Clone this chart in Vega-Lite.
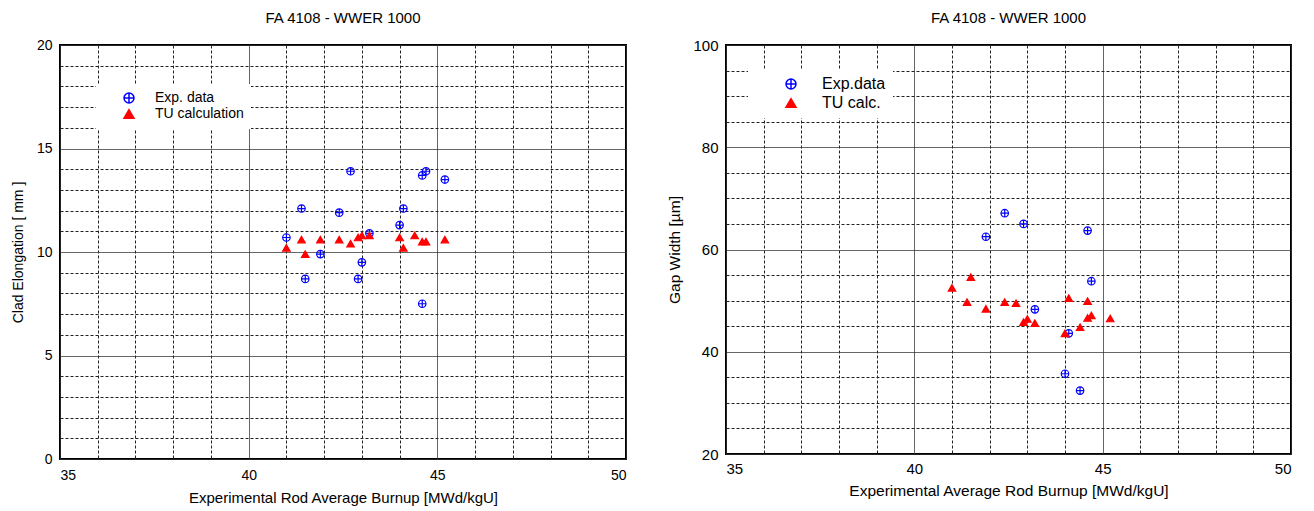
{
  "$schema": "https://vega.github.io/schema/vega-lite/v6.json",
  "padding": {"left": 10, "top": 10, "right": 4, "bottom": 2},
  "background": "white",
  "spacing": 39,
  "resolve": {
    "scale": {"fill": "independent", "stroke": "independent", "shape": "independent"},
    "legend": {"fill": "independent", "stroke": "independent", "shape": "independent"}
  },
  "config": {
    "font": "Liberation Sans",
    "view": {"stroke": "black", "strokeWidth": 2},
    "axis": {"ticks": false, "domain": false, "labelColor": "black", "titleColor": "black", "titleFontWeight": "normal", "labelFont": "Liberation Sans", "titleFont": "Liberation Sans"},
    "title": {"fontWeight": "normal", "color": "black", "font": "Liberation Sans"}
  },
  "datasets": {
    "elong": [
      {"burnup": 41.0, "value": 10.7, "series": "Exp. data"},
      {"burnup": 41.4, "value": 12.1, "series": "Exp. data"},
      {"burnup": 41.5, "value": 8.7, "series": "Exp. data"},
      {"burnup": 41.9, "value": 9.9, "series": "Exp. data"},
      {"burnup": 42.4, "value": 11.9, "series": "Exp. data"},
      {"burnup": 42.7, "value": 13.9, "series": "Exp. data"},
      {"burnup": 42.9, "value": 8.7, "series": "Exp. data"},
      {"burnup": 43.0, "value": 9.5, "series": "Exp. data"},
      {"burnup": 43.2, "value": 10.9, "series": "Exp. data"},
      {"burnup": 44.0, "value": 11.3, "series": "Exp. data"},
      {"burnup": 44.1, "value": 12.1, "series": "Exp. data"},
      {"burnup": 44.6, "value": 13.7, "series": "Exp. data"},
      {"burnup": 44.7, "value": 13.9, "series": "Exp. data"},
      {"burnup": 44.6, "value": 7.5, "series": "Exp. data"},
      {"burnup": 45.2, "value": 13.5, "series": "Exp. data"},
      {"burnup": 41.0, "value": 10.2, "series": "TU calculation"},
      {"burnup": 41.4, "value": 10.6, "series": "TU calculation"},
      {"burnup": 41.5, "value": 9.9, "series": "TU calculation"},
      {"burnup": 41.9, "value": 10.6, "series": "TU calculation"},
      {"burnup": 42.4, "value": 10.6, "series": "TU calculation"},
      {"burnup": 42.7, "value": 10.4, "series": "TU calculation"},
      {"burnup": 42.9, "value": 10.7, "series": "TU calculation"},
      {"burnup": 43.0, "value": 10.8, "series": "TU calculation"},
      {"burnup": 43.2, "value": 10.8, "series": "TU calculation"},
      {"burnup": 44.0, "value": 10.7, "series": "TU calculation"},
      {"burnup": 44.1, "value": 10.2, "series": "TU calculation"},
      {"burnup": 44.4, "value": 10.8, "series": "TU calculation"},
      {"burnup": 44.6, "value": 10.5, "series": "TU calculation"},
      {"burnup": 44.7, "value": 10.5, "series": "TU calculation"},
      {"burnup": 45.2, "value": 10.6, "series": "TU calculation"}
    ],
    "gap": [
      {"burnup": 42.4, "value": 67.1, "series": "Exp.data"},
      {"burnup": 42.9, "value": 65.0, "series": "Exp.data"},
      {"burnup": 41.9, "value": 62.5, "series": "Exp.data"},
      {"burnup": 44.6, "value": 63.7, "series": "Exp.data"},
      {"burnup": 44.7, "value": 53.8, "series": "Exp.data"},
      {"burnup": 43.2, "value": 48.3, "series": "Exp.data"},
      {"burnup": 44.1, "value": 43.6, "series": "Exp.data"},
      {"burnup": 44.0, "value": 35.7, "series": "Exp.data"},
      {"burnup": 44.4, "value": 32.4, "series": "Exp.data"},
      {"burnup": 41.0, "value": 52.5, "series": "TU calc."},
      {"burnup": 41.5, "value": 54.6, "series": "TU calc."},
      {"burnup": 41.4, "value": 49.7, "series": "TU calc."},
      {"burnup": 41.9, "value": 48.4, "series": "TU calc."},
      {"burnup": 42.4, "value": 49.7, "series": "TU calc."},
      {"burnup": 42.7, "value": 49.5, "series": "TU calc."},
      {"burnup": 42.9, "value": 45.8, "series": "TU calc."},
      {"burnup": 43.0, "value": 46.4, "series": "TU calc."},
      {"burnup": 43.2, "value": 45.6, "series": "TU calc."},
      {"burnup": 44.0, "value": 43.6, "series": "TU calc."},
      {"burnup": 44.1, "value": 50.5, "series": "TU calc."},
      {"burnup": 44.4, "value": 44.8, "series": "TU calc."},
      {"burnup": 44.6, "value": 49.9, "series": "TU calc."},
      {"burnup": 44.6, "value": 46.6, "series": "TU calc."},
      {"burnup": 44.7, "value": 47.1, "series": "TU calc."},
      {"burnup": 45.2, "value": 46.5, "series": "TU calc."}
    ]
  },
  "hconcat": [
    {
      "width": 566,
      "height": 414,
      "title": {"text": "FA 4108 - WWER 1000", "fontSize": 15, "offset": 12},
      "data": {"name": "elong"},
      "mark": {"type": "point", "size": 56, "strokeWidth": 1.2, "opacity": 1},
      "encoding": {
        "x": {
          "field": "burnup", "type": "quantitative",
          "scale": {"domain": [35, 50], "nice": false, "zero": false},
          "axis": {
            "title": "Experimental Rod Average Burnup [MWd/kgU]",
            "titleFontSize": 15, "titlePadding": 8,
            "labelFontSize": 14, "labelPadding": 9,
            "values": [35, 36, 37, 38, 39, 40, 41, 42, 43, 44, 45, 46, 47, 48, 49, 50],
            "labelExpr": "datum.value % 5 === 0 ? datum.label : ''",
            "grid": true,
            "gridColor": {"condition": {"test": "datum.value % 5 === 0", "value": "#333333"}, "value": "#222222"},
            "gridDash": {"condition": {"test": "datum.value % 5 === 0", "value": [1, 0]}, "value": [3, 2]},
            "gridWidth": 1,
            "gridOpacity": 1
          }
        },
        "y": {
          "field": "value", "type": "quantitative",
          "scale": {"domain": [0, 20], "nice": false, "zero": false},
          "axis": {
            "title": "Clad Elongation [ mm ]",
            "titleFontSize": 14, "titlePadding": 11,
            "labelFontSize": 14, "labelPadding": 8,
            "values": [0, 1, 2, 3, 4, 5, 6, 7, 8, 9, 10, 11, 12, 13, 14, 15, 16, 17, 18, 19, 20],
            "labelExpr": "datum.value % 5 === 0 ? datum.label : ''",
            "grid": true,
            "gridColor": {"condition": {"test": "datum.value % 5 === 0", "value": "#333333"}, "value": "#222222"},
            "gridDash": {"condition": {"test": "datum.value % 5 === 0", "value": [1, 0]}, "value": [3, 2]},
            "gridWidth": 1,
            "gridOpacity": 1
          }
        },
        "fill": {
          "field": "series", "type": "nominal",
          "scale": {"domain": ["Exp. data", "TU calculation"], "range": ["transparent", "red"]},
          "legend": {
            "title": null, "orient": "none", "legendX": 36, "legendY": 39,
            "fillColor": "white", "padding": 7, "labelFontSize": 14, "labelColor": "black",
            "symbolOffset": 19, "labelOffset": 19, "rowPadding": 0,
            "encode": {"symbols": {
              "size": {"condition": {"test": "datum.value === 'Exp. data'", "value": 30}, "value": 34}
            }}
          }
        },
        "stroke": {
          "field": "series", "type": "nominal",
          "scale": {"domain": ["Exp. data", "TU calculation"], "range": ["blue", "red"]}
        },
        "shape": {
          "field": "series", "type": "nominal",
          "scale": {"domain": ["Exp. data", "TU calculation"], "range": ["M -1 0 A 1 1 0 1 1 1 0 A 1 1 0 1 1 -1 0 Z M -1 0 L 1 0 M 0 -1 L 0 1", "triangle-up"]}
        }
      }
    },
    {
      "width": 565,
      "height": 409,
      "title": {"text": "FA 4108 - WWER 1000", "fontSize": 15, "offset": 12},
      "data": {"name": "gap"},
      "mark": {"type": "point", "size": 56, "strokeWidth": 1.2, "opacity": 1},
      "encoding": {
        "x": {
          "field": "burnup", "type": "quantitative",
          "scale": {"domain": [35, 50], "nice": false, "zero": false},
          "axis": {
            "title": "Experimental Average Rod Burnup [MWd/kgU]",
            "titleFontSize": 15.5, "titlePadding": 7,
            "labelFontSize": 15, "labelPadding": 7,
            "values": [35, 36, 37, 38, 39, 40, 41, 42, 43, 44, 45, 46, 47, 48, 49, 50],
            "labelExpr": "datum.value % 5 === 0 ? datum.label : ''",
            "grid": true,
            "gridColor": {"condition": {"test": "datum.value % 5 === 0", "value": "#333333"}, "value": "#222222"},
            "gridDash": {"condition": {"test": "datum.value % 5 === 0", "value": [1, 0]}, "value": [3, 2]},
            "gridWidth": 1,
            "gridOpacity": 1
          }
        },
        "y": {
          "field": "value", "type": "quantitative",
          "scale": {"domain": [20, 100], "nice": false, "zero": false},
          "axis": {
            "title": "Gap Width [µm]",
            "titleFontSize": 15.5, "titlePadding": 10,
            "labelFontSize": 15, "labelPadding": 8,
            "values": [20, 25, 30, 35, 40, 45, 50, 55, 60, 65, 70, 75, 80, 85, 90, 95, 100],
            "labelExpr": "datum.value % 20 === 0 ? datum.label : ''",
            "grid": true,
            "gridColor": {"condition": {"test": "datum.value % 20 === 0", "value": "#333333"}, "value": "#222222"},
            "gridDash": {"condition": {"test": "datum.value % 20 === 0", "value": [1, 0]}, "value": [3, 2]},
            "gridWidth": 1,
            "gridOpacity": 1
          }
        },
        "fill": {
          "field": "series", "type": "nominal",
          "scale": {"domain": ["Exp.data", "TU calc."], "range": ["transparent", "red"]},
          "legend": {
            "title": null, "orient": "none", "legendX": 22, "legendY": 24,
            "fillColor": "white", "padding": 7, "labelFontSize": 16, "labelColor": "black",
            "symbolOffset": 28, "labelOffset": 23, "rowPadding": 3,
            "encode": {"symbols": {
              "size": {"condition": {"test": "datum.value === 'Exp.data'", "value": 40}, "value": 50}
            }}
          }
        },
        "stroke": {
          "field": "series", "type": "nominal",
          "scale": {"domain": ["Exp.data", "TU calc."], "range": ["blue", "red"]}
        },
        "shape": {
          "field": "series", "type": "nominal",
          "scale": {"domain": ["Exp.data", "TU calc."], "range": ["M -1 0 A 1 1 0 1 1 1 0 A 1 1 0 1 1 -1 0 Z M -1 0 L 1 0 M 0 -1 L 0 1", "triangle-up"]}
        }
      }
    }
  ]
}
